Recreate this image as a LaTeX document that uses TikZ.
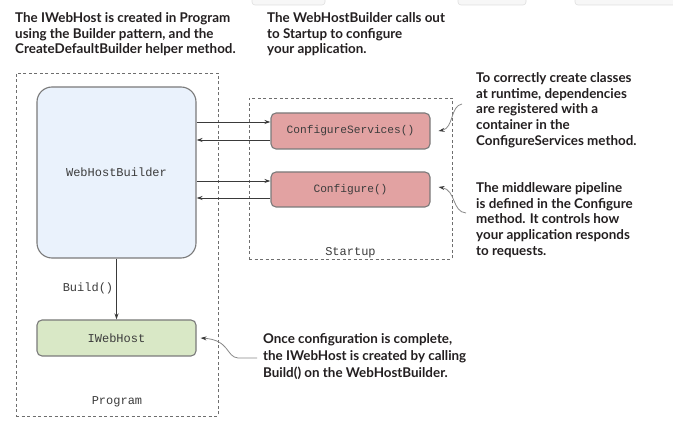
\documentclass[tikz,border=0pt]{standalone}
\usepackage{fontspec}
\setmainfont{Lato}
\setmonofont{Liberation Mono}
\usetikzlibrary{arrows.meta}
\definecolor{txt}{HTML}{231F20}
\definecolor{mono}{HTML}{3C3C3C}
\definecolor{bord}{HTML}{7A7A7A}
\definecolor{dash}{HTML}{6E6E6E}
\definecolor{bluef}{HTML}{EAF2FC}
\definecolor{greenf}{HTML}{D9E8C6}
\definecolor{redf}{HTML}{E2A2A2}
\definecolor{ann}{HTML}{8A8A8A}
\definecolor{arr}{HTML}{3A3A3A}
\tikzset{
  container/.style={draw=dash, line width=0.9pt, dash pattern=on 3pt off 2.5pt, inner sep=0pt},
  box/.style={draw=bord, line width=1.1pt, rounded corners=5pt, inner sep=0pt, font=\fontsize{12}{13}\selectfont\ttfamily, text=mono},
  monolabel/.style={font=\fontsize{12}{13}\selectfont\ttfamily, text=mono, inner sep=0pt},
  note/.style={anchor=north west, inner sep=0pt, align=left, text=txt, font=\fontsize{13.4}{15.6}\selectfont\bfseries},
  flow/.style={draw=arr, line width=0.9pt, -{Stealth[length=6pt,width=4pt]}},
  pointer/.style={draw=ann, line width=0.8pt, -{Stealth[length=6pt,width=4pt,color=arr]}},
  chrome/.style={draw=black!12, fill=black!3, line width=0.6pt, rounded corners=3pt}
}
\begin{document}
\begin{tikzpicture}[x=1pt,y=-1pt]
\useasboundingbox (0,0) rectangle (673,430);
\fill[white] (0,0) rectangle (673,430);
% window chrome fragments at the top edge
\draw[chrome] (252,-10) rectangle (325,5);
\draw[chrome] (458,-10) rectangle (526,5);
\draw[chrome] (575,-10) rectangle (690,5);

% containers
\node[container, minimum width=202pt, minimum height=343pt] (prog) at (117,244.5) {};
\node[monolabel] (progl) at (117,402) {Program};
\node[container, minimum width=203pt, minimum height=161pt] (start) at (350.5,178.5) {};
\node[monolabel] (startl) at (350.5,253) {Startup};

% boxes
\node[box, fill=bluef, rounded corners=15pt, minimum width=159pt, minimum height=171pt] (whb) at (116.5,172.5) {WebHostBuilder};
\node[box, fill=greenf, minimum width=159pt, minimum height=36pt] (iwh) at (116.5,338) {IWebHost};
\node[box, fill=redf, minimum width=159pt, minimum height=36pt, font=\fontsize{11.2}{13}\selectfont\ttfamily] (cs) at (350.5,131) {ConfigureServices()};
\node[box, fill=redf, minimum width=159pt, minimum height=35pt, font=\fontsize{11.2}{13}\selectfont\ttfamily] (cfg) at (350.5,189.5) {Configure()};

% flows
\coordinate (c1) at ([yshift=9pt]cs.west);
\coordinate (c2) at ([yshift=-9pt]cs.west);
\coordinate (c3) at ([yshift=8.5pt]cfg.west);
\coordinate (c4) at ([yshift=-8.5pt]cfg.west);
\draw[flow] (c1 -| whb.east) -- (c1);
\draw[flow] (c2) -- (c2 -| whb.east);
\draw[flow] (c3 -| whb.east) -- (c3);
\draw[flow] (c4) -- (c4 -| whb.east);
\draw[flow] (whb.south) -- (iwh.north);
\node[monolabel] (buildl) at (88,288) {Build()};

% notes
\node[note] (n1) at (15,12.5) {The IWebHost is created in Program\\using the Builder pattern, and the\\CreateDefaultBuilder helper method.};
\node[note] (n2) at (267,12.5) {The WebHostBuilder calls out\\to Startup to configure\\your application.};
\node[note] (n3) at (476,72.5) {To correctly create classes\\at runtime, dependencies\\are registered with a\\container in the\\ConfigureServices method.};
\node[note] (n4) at (476,182.5) {The middleware pipeline\\is defined in the Configure\\method. It controls how\\your application responds\\to requests.};
\node[note, font=\fontsize{13.4}{17}\selectfont\bfseries] (n5) at (263,333.5) {Once configuration is complete,\\the IWebHost is created by calling\\Build() on the WebHostBuilder.};

% pointers
\coordinate (p1) at (462,104);
\coordinate (p2) at (466,213);
\coordinate (p3) at (257,358);
\coordinate (p3b) at (238,358);
\draw[pointer] (p1) .. controls (450,106) and (454,128) .. ([xshift=8pt]cs.east);
\draw[pointer] (p2) .. controls (452,212) and (456,190) .. ([xshift=8pt,yshift=2.5pt]cfg.east);
\draw[pointer] (p3) -- (p3b) .. controls (226,357) and (230,340) .. ([xshift=4pt]iwh.east);
\end{tikzpicture}
\end{document}
